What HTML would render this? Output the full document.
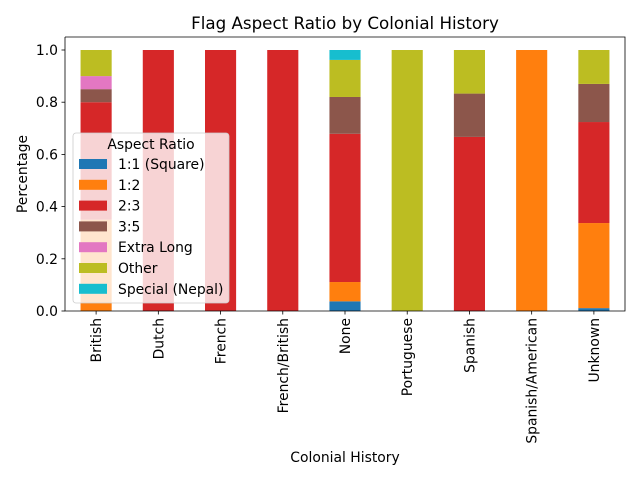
<!DOCTYPE html>
<html><head><meta charset="utf-8"><style>
html,body{margin:0;padding:0;background:#fff;}
svg{display:block;font-family:"DejaVu Sans","Liberation Sans",sans-serif;}
</style></head><body>
<svg id="chart" width="640" height="480" viewBox="0 0 640 480">
<text x="345" y="29" font-size="16.7" text-anchor="middle">Flag Aspect Ratio by Colonial History</text>
<g id="bars"></g>
<g id="axes"></g>
<text x="345" y="462" font-size="13.9" text-anchor="middle">Colonial History</text>
<text transform="translate(27,174) rotate(-90)" font-size="13.9" text-anchor="middle">Percentage</text>
<g id="legend"></g>
</svg>
<script>
const categories=["British","Dutch","French","French/British","None","Portuguese","Spanish","Spanish/American","Unknown"];
const seriesNames=["1:1 (Square)","1:2","2:3","3:5","Extra Long","Other","Special (Nepal)"];
const seriesColors=["#1f77b4","#ff7f0e","#d62728","#8c564b","#e377c2","#bcbd22","#17becf"];
const sSquare=[0,0,0,0,0.037,0,0,0,0.011];
const sHalf=[0.35,0,0,0,0.074,0,0,1,0.326];
const sTwoThirds=[0.45,1,1,1,0.568,0,0.667,0,0.387];
const sThreeFifths=[0.05,0,0,0,0.141,0,0.166,0,0.146];
const sExtraLong=[0.05,0,0,0,0,0,0,0,0];
const sOther=[0.1,0,0,0,0.142,1,0.167,0,0.13];
const sNepal=[0,0,0,0,0.038,0,0,0,0];
const yTicks=[0,0.2,0.4,0.6,0.8,1.0];
const yTickLabels=["0.0","0.2","0.4","0.6","0.8","1.0"];
const series=[sSquare,sHalf,sTwoThirds,sThreeFifths,sExtraLong,sOther,sNepal];
const NS="http://www.w3.org/2000/svg";
const L=65,R=625,T=37,B=311,Y1=50;
const step=(R-L)/categories.length, bw=step*0.5;
const xC=i=>L+step*(i+0.5);
const yS=v=>B-(B-Y1)*v;
function mk(tag,attrs,parent){const e=document.createElementNS(NS,tag);for(const k in attrs)e.setAttribute(k,attrs[k]);parent.appendChild(e);return e;}
const bars=document.getElementById('bars');
categories.forEach((c,i)=>{let cum=0;series.forEach((s,j)=>{const v=s[i];if(v>0){const r=mk('rect',{x:xC(i)-bw/2,y:yS(cum+v),width:bw,height:yS(cum)-yS(cum+v),fill:seriesColors[j]},bars);

}cum+=v;});});
const ax=document.getElementById('axes');
const frame=mk('path',{d:`M${L},${T}V${B}H${R}V${T}H${L}`,fill:'none',stroke:'#000','stroke-width':0.8},ax);


yTicks.forEach((t,k)=>{const y=yS(t);mk('line',{x1:L-3.5,x2:L,y1:y,y2:y,stroke:'#000','stroke-width':0.8},ax);
const tx=mk('text',{x:L-7,y:y+5,'font-size':13.9,'text-anchor':'end'},ax);tx.textContent=yTickLabels[k];

});
categories.forEach((c,i)=>{const x=xC(i);mk('line',{x1:x,x2:x,y1:B,y2:B+3.5,stroke:'#000','stroke-width':0.8},ax);
const tx=mk('text',{transform:`translate(${x+5},${B+7}) rotate(-90)`,'font-size':13.9,'text-anchor':'end'},ax);tx.textContent=c;

});
const lg=document.getElementById('legend');
const box=mk('rect',{x:73,y:133,width:156,height:170,rx:3,fill:'#fff','fill-opacity':0.8,stroke:'#ccc','stroke-width':0.8},lg);


const lt=mk('text',{x:151,y:149,'font-size':13.9,'text-anchor':'middle'},lg);lt.textContent='Aspect Ratio';


seriesNames.forEach((n,j)=>{const y=164+j*20.8;
const sw=mk('rect',{x:79,y:y-5,width:28,height:10,fill:seriesColors[j]},lg);


const t=mk('text',{x:118,y:y+5,'font-size':13.9},lg);t.textContent=n;

});
</script>
</body></html>
